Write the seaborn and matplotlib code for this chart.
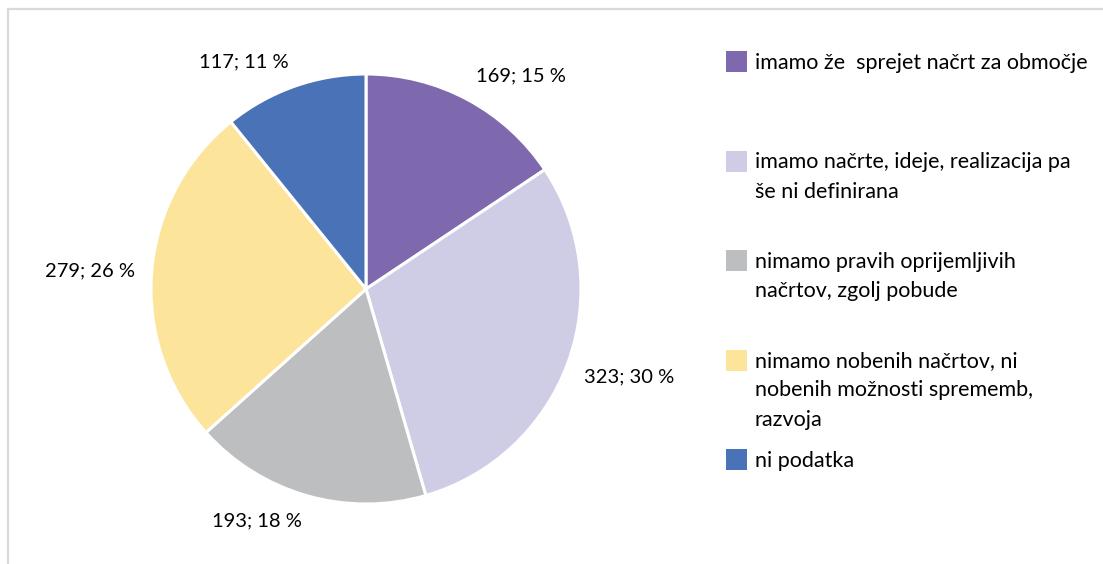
import matplotlib
matplotlib.use("Agg")
import matplotlib.pyplot as plt
import seaborn as sns
import numpy as np
from matplotlib.patches import Rectangle

categories = [
    "imamo že  sprejet načrt za območje",
    "imamo načrte, ideje, realizacija pa\nše ni definirana",
    "nimamo pravih oprijemljivih\nnačrtov, zgolj pobude",
    "nimamo nobenih načrtov, ni\nnobenih možnosti sprememb,\nrazvoja",
    "ni podatka",
]
values = [169, 323, 193, 279, 117]
percents = [15, 30, 18, 26, 11]
colors = ["#7E69AE", "#CFCCE5", "#BDBEC0", "#FCE49B", "#4A72B6"]

sns.set_theme(style="white")
plt.rcParams["font.family"] = ["Lato", "DejaVu Sans"]

W, H = 1103, 564
fig = plt.figure(figsize=(W / 100, H / 100), dpi=100)

# frame
fig.patches.append(Rectangle((8 / W, -0.1), 1.2, (H - 9) / H + 0.1,
                             transform=fig.transFigure, fill=False,
                             edgecolor="#D9D9D9", linewidth=1.6, zorder=0))

cx, cy, R = 366, 289, 215
ax = fig.add_axes([(cx - R) / W, (H - cy - R) / H, 2 * R / W, 2 * R / H])

labels = [f"{v}; {p} %" for v, p in zip(values, percents)]
wedges, texts = ax.pie(values, colors=colors, startangle=90, counterclock=False,
                       labels=labels, labeldistance=1.08,
                       wedgeprops=dict(edgecolor="white", linewidth=2.2),
                       textprops=dict(fontsize=14.5, color="#000000"))
# "outside end" style anchoring: label box touches the point beyond the rim
for t in texts:
    x, y = t.get_position()
    t.set_horizontalalignment("left" if x > 0.05 else "right" if x < -0.05 else "center")
    t.set_verticalalignment("bottom" if y > 0.3 else "top" if y < -0.3 else "center")
ax.set_xlim(-1, 1)
ax.set_ylim(-1, 1)
ax.set_aspect("equal")
ax.axis("off")

# legend (square aligned to first text line)
lx, tx, base0, step, lstep = 726, 755, 69, 99.5, 29
for i, (lab, col) in enumerate(zip(categories, colors)):
    b = base0 + step * i
    fig.patches.append(Rectangle((lx / W, (H - b - 3) / H), 21 / W, 21 / H,
                                 transform=fig.transFigure, facecolor=col,
                                 edgecolor="none"))
    for k, line in enumerate(lab.split("\n")):
        fig.text(tx / W, (H - b - k * lstep) / H, line, fontsize=15.5,
                 va="baseline", ha="left", color="#000000",
                 transform=fig.transFigure)

fig.savefig("out.png", dpi=100, facecolor="white")
